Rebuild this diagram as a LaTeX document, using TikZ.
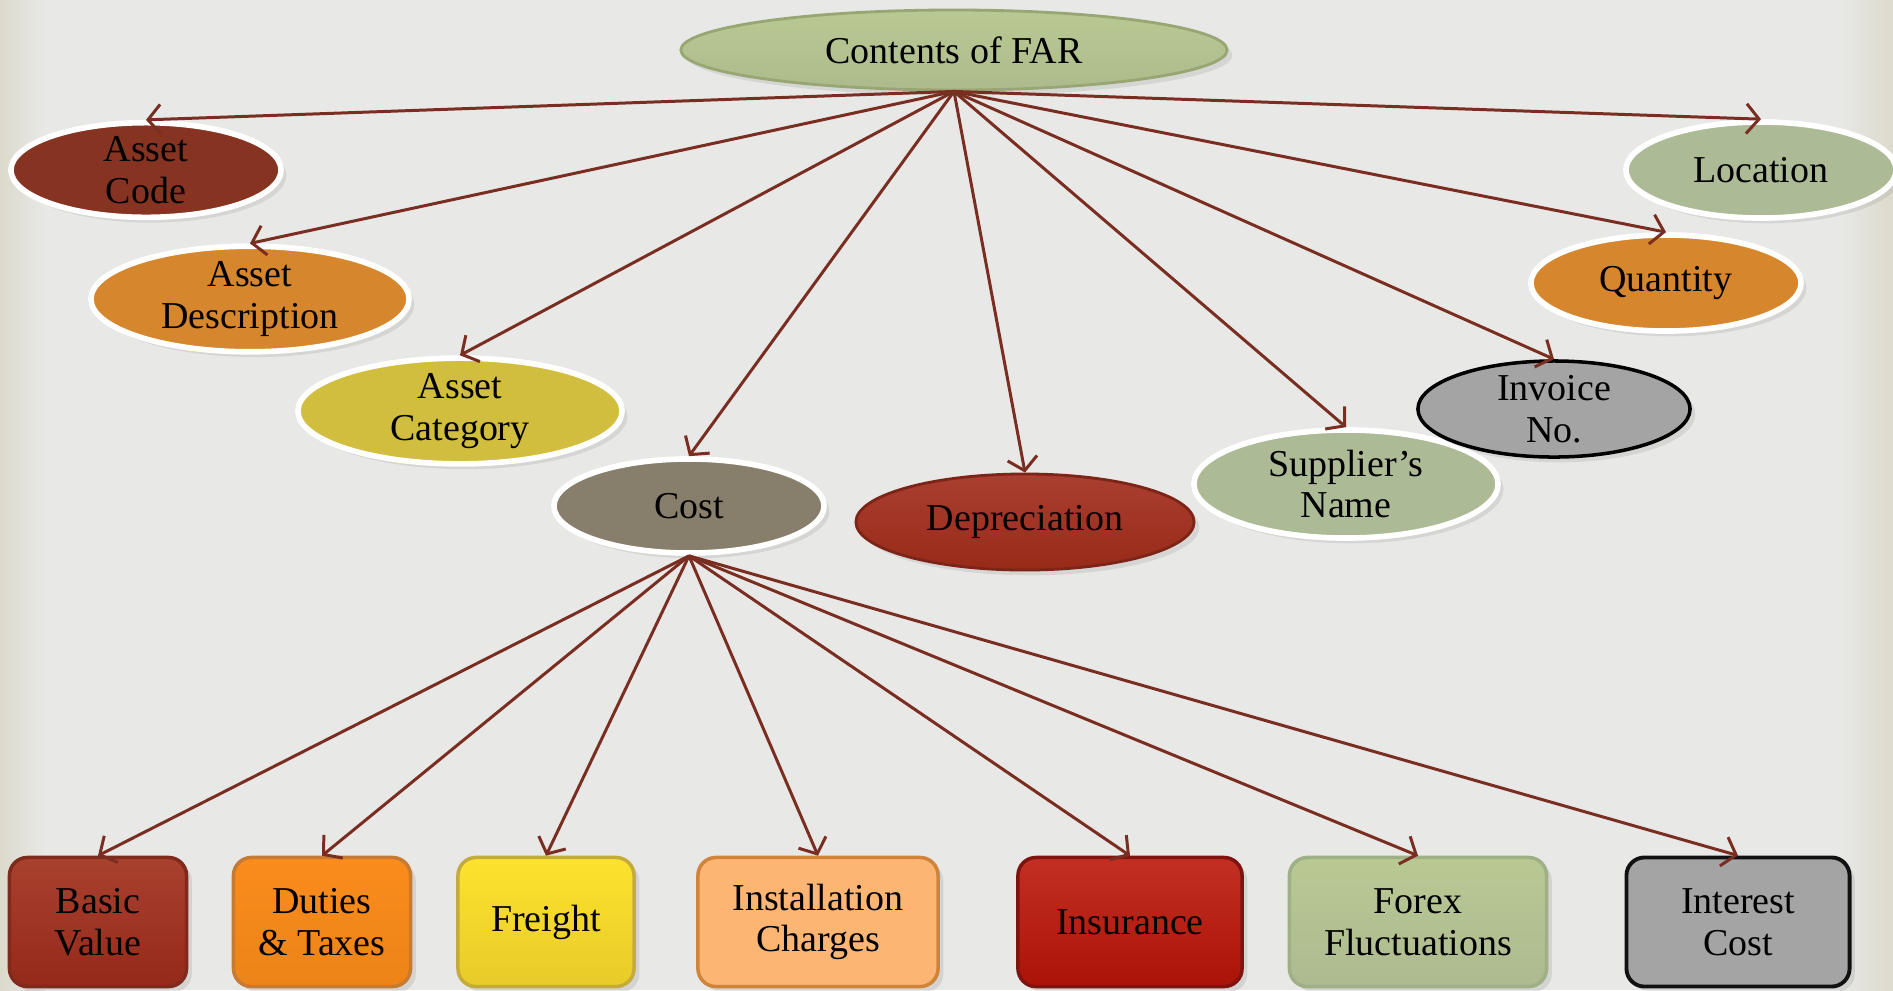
\documentclass[tikz,border=0pt]{standalone}
\usepackage{fontspec}
\setmainfont{Liberation Serif}
\usetikzlibrary{shapes.geometric,arrows.meta,shadows}

\definecolor{bgcol}{HTML}{E8E8E6}
\definecolor{bgedge}{HTML}{DCDACB}
\definecolor{linkcol}{HTML}{7A2E22}
\definecolor{sage}{HTML}{ADBA96}
\definecolor{amber}{HTML}{D6862C}
\definecolor{roottop}{HTML}{B9C993}
\definecolor{rootbot}{HTML}{ADBB8C}
\definecolor{rootline}{HTML}{97A673}

\tikzset{
  lbl/.style={font=\fontsize{10.8}{11.8}\selectfont, align=center, text=black},
  oval/.style={lbl, ellipse, inner sep=0pt,
    drop shadow={opacity=0.18, shadow xshift=1.5pt, shadow yshift=-1.5pt}},
  whiteoval/.style={oval, draw=white, line width=1.6pt},
  tile/.style={lbl, rectangle, rounded corners=0.18cm, inner sep=0pt,
    minimum height=1.29cm, line width=1pt,
    drop shadow={opacity=0.2, shadow xshift=1.5pt, shadow yshift=-1.5pt}},
  link/.style={draw=linkcol, line width=0.85pt,
    -{Straight Barb[length=3.6pt,width=8.5pt,line width=0.85pt]}},
}

\begin{document}
\begin{tikzpicture}[x=0.01cm,y=-0.01cm]
  % canvas
  \useasboundingbox (0,0) rectangle (1893,990);
  \fill[bgcol] (0,0) rectangle (1893,990);
  \shade[left color=bgedge, right color=bgcol] (0,0) rectangle (45,990);
  \shade[left color=bgcol, right color=bgedge] (1840,0) rectangle (1893,990);

  % top level
  \node[oval, draw=rootline, line width=0.8pt,
        top color=roottop, bottom color=rootbot,
        minimum width=5.46cm, minimum height=0.80cm] (far) at (954,50) {Contents of FAR};

  % attributes of an asset record
  \node[whiteoval, fill={rgb,255:red,134;green,51;blue,34},
        minimum width=2.70cm, minimum height=0.94cm] (code) at (146,170) {Asset\\Code};
  \node[whiteoval, fill=amber,
        minimum width=3.18cm, minimum height=0.96cm] (desc) at (250,299) {Asset\\Description};
  \node[whiteoval, fill={rgb,255:red,210;green,190;blue,62},
        minimum width=3.24cm, minimum height=0.94cm] (cat) at (460,411) {Asset\\Category};
  \node[whiteoval, fill={rgb,255:red,135;green,127;blue,107},
        minimum width=2.70cm, minimum height=0.94cm] (cost) at (689,506) {Cost};
  \node[oval, draw={rgb,255:red,124;green,36;blue,24}, line width=0.8pt,
        top color={rgb,255:red,170;green,62;blue,48}, bottom color={rgb,255:red,152;green,42;blue,24},
        minimum width=3.38cm, minimum height=0.96cm] (depr) at (1025,522) {Depreciation};
  \node[whiteoval, fill=sage,
        minimum width=3.04cm, minimum height=1.08cm] (supp) at (1346,484) {Supplier’s\\Name};
  \node[oval, draw=black, line width=1pt, fill={rgb,255:red,164;green,164;blue,164},
        minimum width=2.72cm, minimum height=0.96cm] (inv) at (1554,409) {Invoice\\No.};
  \node[whiteoval, fill=amber,
        minimum width=2.70cm, minimum height=0.96cm] (qty) at (1666,283) {Quantity};
  \node[whiteoval, fill=sage,
        minimum width=2.70cm, minimum height=0.96cm] (loc) at (1761,170) {Location};

  % components of cost
  \node[tile, draw={rgb,255:red,126;green,42;blue,28},
        top color={rgb,255:red,169;green,65;blue,47}, bottom color={rgb,255:red,149;green,41;blue,26},
        minimum width=1.77cm] (bv) at (98,922) {Basic\\Value};
  \node[tile, draw={rgb,255:red,197;green,123;blue,52},
        top color={rgb,255:red,250;green,140;blue,28}, bottom color={rgb,255:red,236;green,132;blue,24},
        minimum width=1.77cm] (dt) at (322,922) {Duties\\\& Taxes};
  \node[tile, draw={rgb,255:red,196;green,172;blue,60},
        top color={rgb,255:red,253;green,227;blue,44}, bottom color={rgb,255:red,232;green,202;blue,42},
        minimum width=1.76cm] (fr) at (546,922) {Freight};
  \node[tile, draw={rgb,255:red,208;green,132;blue,58},
        fill={rgb,255:red,253;green,181;blue,116},
        minimum width=2.40cm] (ic) at (818,922) {Installation\\Charges};
  \node[tile, draw={rgb,255:red,126;green,20;blue,16},
        top color={rgb,255:red,196;green,47;blue,36}, bottom color={rgb,255:red,170;green,20;blue,6},
        minimum width=2.24cm] (ins) at (1130,922) {Insurance};
  \node[tile, draw={rgb,255:red,159;green,175;blue,134},
        top color={rgb,255:red,185;green,201;blue,146}, bottom color={rgb,255:red,173;green,186;blue,145},
        minimum width=2.57cm] (fx) at (1418,922) {Forex\\Fluctuations};
  \node[tile, draw={rgb,255:red,17;green,17;blue,17}, line width=1.1pt,
        fill={rgb,255:red,164;green,164;blue,164},
        minimum width=2.23cm] (it) at (1738,922) {Interest\\Cost};

  % connectors from the register to its fields
  \foreach \t in {code,desc,cat,cost,depr,supp,inv,qty,loc}
    \draw[link] (far.south) -- (\t.north);

  % connectors from cost to its components
  \foreach \t in {bv,dt,fr,ic,ins,fx,it}
    \draw[link] (cost.south) -- (\t.north);
\end{tikzpicture}
\end{document}
